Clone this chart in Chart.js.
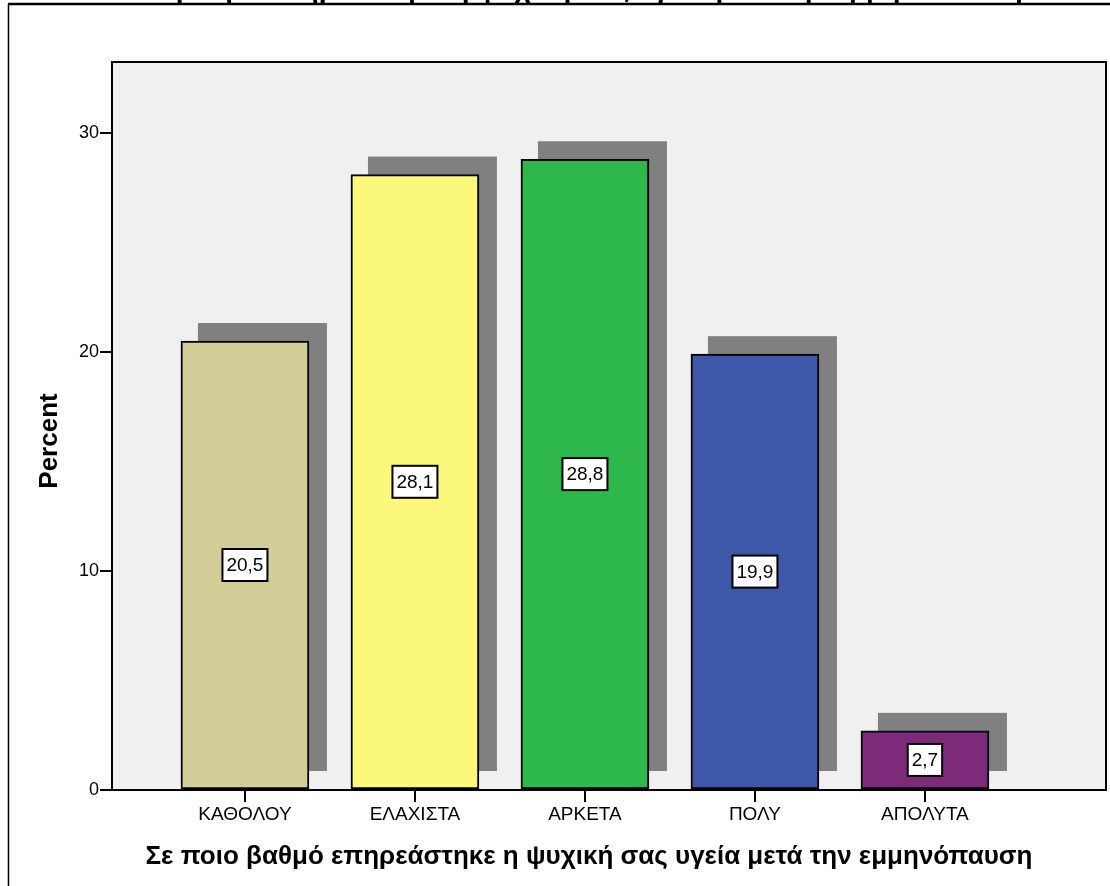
<!DOCTYPE html>
<html>
<head>
<meta charset="utf-8">
<script src="https://cdn.jsdelivr.net/npm/chart.js@4"></script>
<style>
  body { margin: 0; background: #fff; }
  canvas { display: block; }
</style>
</head>
<body>
<canvas id="grafico" width="1110" height="886"></canvas>
<script>
// datos
const categorias = ['ΚΑΘΟΛΟΥ', 'ΕΛΑΧΙΣΤΑ', 'ΑΡΚΕΤΑ', 'ΠΟΛΥ', 'ΑΠΟΛΥΤΑ'];
const porcentajes = [20.5, 28.1, 28.8, 19.9, 2.7];
const colores = ['#d3ce98', '#fbf87b', '#2eb84c', '#3d58a9', '#7d2a7b'];
const ticksY = [0, 10, 20, 30];
const tituloX = 'Σε ποιο βαθμό επηρεάστηκε η ψυχική σας υγεία μετά την εμμηνόπαυση';
const tituloY = 'Percent';

const fuente = '"Liberation Sans", Arial, sans-serif';

// fondo, marco y sombras
const marcoPlugin = {
    id: 'marco',
    beforeDraw(chart) {
        const ctx = chart.ctx;
        const a = chart.chartArea;
        ctx.save();
        ctx.fillStyle = '#fff';
        ctx.fillRect(0, 0, chart.width, chart.height);
        // titulo cortado arriba
        ctx.fillStyle = '#000';
        ctx.font = 'bold 28px ' + fuente;
        ctx.textAlign = 'center';
        ctx.textBaseline = 'alphabetic';
        ctx.fillText(tituloX, 545, -3);
        // marco exterior
        ctx.strokeStyle = '#000';
        ctx.lineWidth = 2.5;
        ctx.beginPath();
        ctx.moveTo(8, 4);
        ctx.lineTo(chart.width, 4);
        ctx.stroke();
        ctx.lineWidth = 1.5;
        ctx.beginPath();
        ctx.moveTo(8.5, 4);
        ctx.lineTo(8.5, chart.height);
        ctx.stroke();
        // fondo del area
        ctx.fillStyle = '#f0f0f0';
        ctx.fillRect(a.left, a.top, a.right - a.left, a.bottom - a.top);
        ctx.restore();
    },
    beforeDatasetsDraw(chart) {
        const ctx = chart.ctx;
        const meta = chart.getDatasetMeta(0);
        ctx.save();
        ctx.fillStyle = '#808080';
        meta.data.forEach(bar => {
            const p = bar.getProps(['x', 'y', 'base', 'width'], true);
            ctx.fillRect(p.x - p.width / 2 + 17, p.y - 18, p.width + 1, p.base - p.y);
        });
        ctx.restore();
    },
    afterDatasetsDraw(chart) {
        const ctx = chart.ctx;
        const a = chart.chartArea;
        const meta = chart.getDatasetMeta(0);
        ctx.save();
        // etiquetas de valor
        ctx.font = '19px ' + fuente;
        ctx.textAlign = 'center';
        ctx.textBaseline = 'middle';
        meta.data.forEach((bar, i) => {
            const p = bar.getProps(['x', 'y', 'base'], true);
            const texto = porcentajes[i].toFixed(1).replace('.', ',');
            const w = ctx.measureText(texto).width + 8;
            const h = 32;
            const cy = (p.y + p.base) / 2;
            ctx.fillStyle = '#fff';
            ctx.fillRect(p.x - w / 2, cy - h / 2, w, h);
            ctx.strokeStyle = '#000';
            ctx.lineWidth = 2;
            ctx.strokeRect(p.x - w / 2, cy - h / 2, w, h);
            ctx.fillStyle = '#000';
            ctx.fillText(texto, p.x, cy + 1);
        });
        // borde del area
        ctx.strokeStyle = '#000';
        ctx.lineWidth = 2;
        ctx.strokeRect(a.left, a.top, a.right - a.left, a.bottom - a.top);
        // titulos de ejes
        ctx.font = 'bold 26px ' + fuente;
        ctx.fillText(tituloX, 589, 857);
        ctx.translate(50, 441);
        ctx.rotate(-Math.PI / 2);
        ctx.fillText(tituloY, 0, 0);
        ctx.restore();
    }
};

const ctxGrafico = document.getElementById('grafico').getContext('2d');
new Chart(ctxGrafico, {
    type: 'bar',
    data: {
        datasets: [{
            data: categorias.map((c, i) => ({ x: i, y: porcentajes[i] })),
            backgroundColor: colores,
            borderColor: '#000',
            borderWidth: 2,
            borderSkipped: false,
            barThickness: 128
        }]
    },
    options: {
        responsive: false,
        animation: false,
        layout: { padding: { top: 62, right: 4, left: 0, bottom: 0 } },
        plugins: {
            legend: { display: false },
            tooltip: { enabled: false }
        },
        scales: {
            x: {
                type: 'linear',
                offset: false,
                min: -0.782,
                max: 5.065,
                afterBuildTicks: scale => { scale.ticks = categorias.map((c, i) => ({ value: i })); },
                afterFit: scale => { scale.height = 96; },
                ticks: {
                    callback: v => categorias[v],
                    color: '#000',
                    font: { family: fuente, size: 19 },
                    padding: 1,
                    maxRotation: 0,
                    autoSkip: false
                },
                grid: { offset: false, drawOnChartArea: false, drawTicks: true, tickLength: 12, tickColor: '#000', lineWidth: 2 },
                border: { display: false }
            },
            y: {
                min: 0,
                max: 33.24,
                afterBuildTicks: scale => { scale.ticks = ticksY.map(v => ({ value: v })); },
                afterFit: scale => { scale.width = 112; },
                ticks: {
                    color: '#000',
                    font: { family: fuente, size: 18 },
                    padding: 1
                },
                grid: { drawOnChartArea: false, drawTicks: true, tickLength: 12, tickColor: '#000', lineWidth: 2 },
                border: { display: false }
            }
        }
    },
    plugins: [marcoPlugin]
});
</script>
</body>
</html>
